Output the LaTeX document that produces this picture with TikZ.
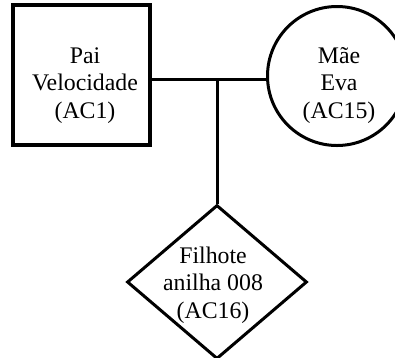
\documentclass[tikz,border=0pt]{standalone}
\usepackage{fontspec}
\setmainfont{Liberation Serif}
\usetikzlibrary{shapes.geometric}
\begin{document}
\begin{tikzpicture}[x=1pt,y=-1pt,
  person/.style={draw=black, fill=white, inner sep=0pt},
  label/.style={align=center, font=\fontsize{23.8}{27.5}\selectfont},
  tie/.style={draw=black, line width=3pt}]
  \useasboundingbox (0,0) rectangle (395,357);
  \clip (0,0) rectangle (395,357);
  % parents
  \node[person, rectangle, line width=4pt, minimum width=137pt, minimum height=140pt] (pai) at (81.5,75) {};
  \node[label] at (85,85.5) {Pai\\Velocidade\\(AC1)};
  \node[person, circle, line width=3pt, minimum size=139pt] (mae) at (337,76) {};
  \node[label] at (339,85.5) {Mãe\\Eva\\(AC15)};
  % offspring
  \node[person, diamond, line width=3pt, minimum width=180pt, minimum height=154pt] (kid) at (217,282) {};
  \node[label] at (213,285) {Filhote\\anilha 008\\(AC16)};
  % couple line and descent line
  \coordinate (mid) at (217,79);
  \draw[tie] (pai.east |- mid) -- (mae.west |- mid);
  \draw[tie] (mid) -- (kid.north);
\end{tikzpicture}
\end{document}
